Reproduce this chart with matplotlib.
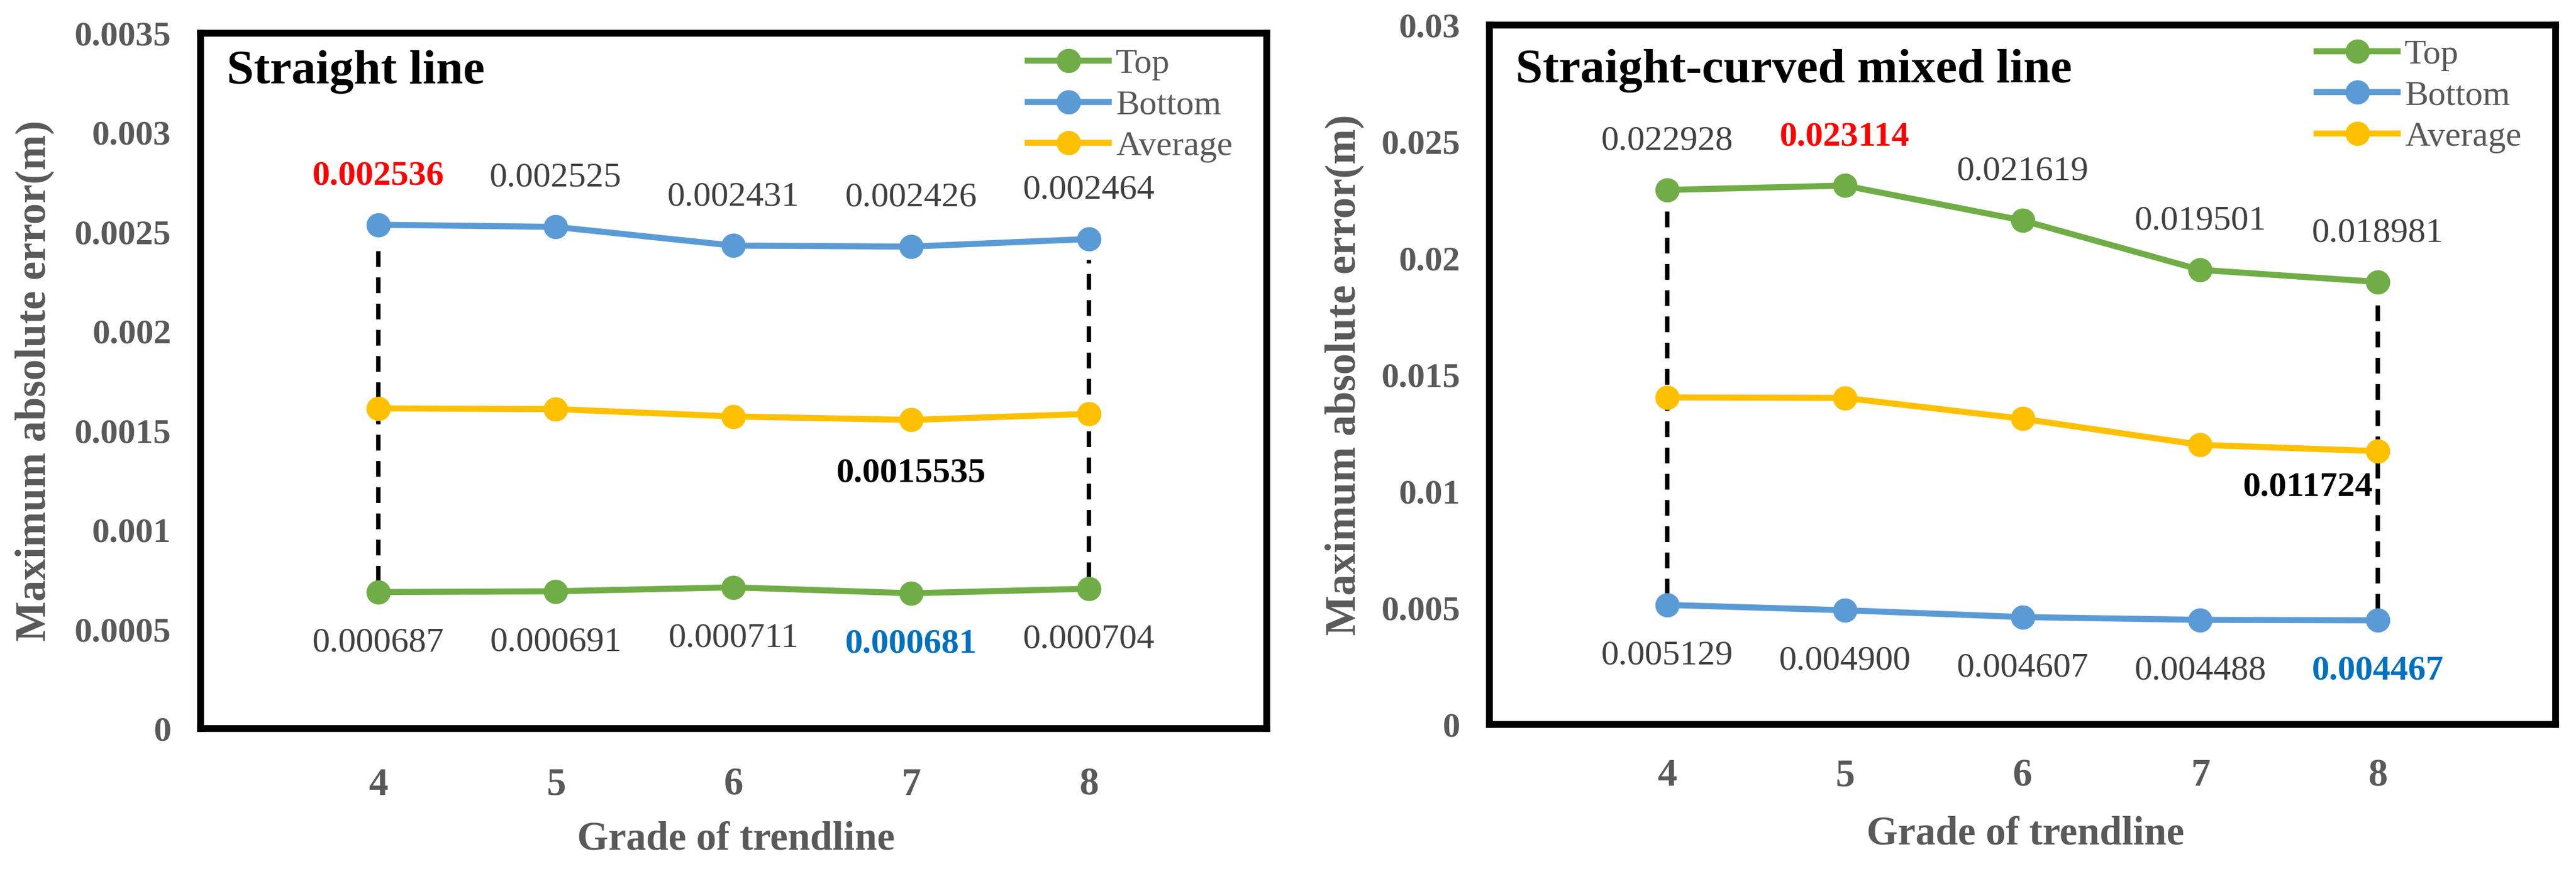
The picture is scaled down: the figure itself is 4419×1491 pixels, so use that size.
import numpy as np
import matplotlib
matplotlib.use('Agg')
from matplotlib import pyplot as plt

plt.rcParams['font.family'] = ['Liberation Serif', 'DejaVu Serif']

grades = [4, 5, 6, 7, 8]
series_names = ['Top', 'Bottom', 'Average']
colors = ['#70AD47', '#5B9BD5', '#FFC000']

# straight line
sl_top = [0.000687, 0.000691, 0.000711, 0.000681, 0.000704]
sl_bottom = [0.002536, 0.002525, 0.002431, 0.002426, 0.002464]
sl_avg = [0.0016115, 0.001608, 0.001571, 0.0015535, 0.001584]
sl_yticks = [0, 0.0005, 0.001, 0.0015, 0.002, 0.0025, 0.003, 0.0035]
sl_yticklabels = ['0', '0.0005', '0.001', '0.0015', '0.002', '0.0025', '0.003', '0.0035']

# straight-curved mixed line
mx_top = [0.022928, 0.023114, 0.021619, 0.019501, 0.018981]
mx_bottom = [0.005129, 0.004900, 0.004607, 0.004488, 0.004467]
mx_avg = [0.0140285, 0.014007, 0.013113, 0.0119945, 0.011724]
mx_yticks = [0, 0.005, 0.01, 0.015, 0.02, 0.025, 0.03]
mx_yticklabels = ['0', '0.005', '0.01', '0.015', '0.02', '0.025', '0.03']

GRAY = '#595959'
LABEL = '#404040'
RED = '#FF0000'
BLUE = '#0070C0'


def fmt(v):
    s = '%.7f' % v
    s = s.rstrip('0')
    if len(s.split('.')[1]) < 6:
        s = '%.6f' % v
    return s


def panel(ax, top, bottom, avg, yticks, yticklabels, title, above, below,
          avg_idx, avg_off, avg_ha, ypad, xpad, ylab_x, xlab_y, title_y, leg_y):
    ymax = yticks[-1]
    gap = 0.03 * ymax
    for xi in (0, 4):
        lo = min(top[xi], bottom[xi])
        hi = max(top[xi], bottom[xi])
        ax.plot([grades[xi], grades[xi]], [lo + gap * 0.5, hi - gap], color='k',
                lw=1.8, linestyle=(0, (3.6, 2.4)), zorder=1)
    for vals, name, c in zip([top, bottom, avg], series_names, colors):
        ax.plot(grades, vals, color=c, lw=2.5, marker='o', markersize=9,
                label=name, zorder=3)

    # data labels: (series, direction, special colours)
    for vals, direction, special in [above, below]:
        off = 20 if direction == 'up' else -21
        for i, (g, v) in enumerate(zip(grades, vals)):
            col, wt = LABEL, 'normal'
            if i in special:
                col, wt = special[i], 'bold'
            ax.annotate(fmt(v), (g, v), xytext=(0, off), textcoords='offset points',
                        ha='center', va='center', fontsize=14.5, color=col, fontweight=wt)
    ax.annotate(fmt(avg[avg_idx]), (grades[avg_idx], avg[avg_idx]), xytext=avg_off,
                textcoords='offset points', ha=avg_ha, va='center', fontsize=14.5,
                color='k', fontweight='bold')

    ax.set_xlim(3, 9)
    ax.set_ylim(0, ymax)
    ax.set_xticks(grades)
    ax.set_xticklabels([str(g) for g in grades], fontsize=16, fontweight='bold', color=GRAY)
    ax.set_yticks(yticks)
    ax.set_yticklabels(yticklabels, fontsize=14.5, fontweight='bold', color=GRAY)
    ax.tick_params(axis='y', length=0, pad=ypad)
    ax.tick_params(axis='x', length=0, pad=xpad)
    for sp in ax.spines.values():
        sp.set_linewidth(2.8)
        sp.set_color('k')
    ax.set_ylabel('Maximum absolute error(m)', fontsize=17.5, fontweight='bold', color=GRAY)
    ax.yaxis.set_label_coords(ylab_x, 0.5)
    ax.set_xlabel('Grade of trendline', fontsize=16.5, fontweight='bold', color=GRAY)
    ax.xaxis.set_label_coords(0.5025, xlab_y)
    ax.text(0.0246, title_y, title, transform=ax.transAxes, fontsize=20,
            fontweight='bold', color='k', va='baseline', ha='left')
    ax.legend(loc='upper left', bbox_to_anchor=(0.776, leg_y), frameon=False,
              fontsize=14.5, handlelength=2.3, handletextpad=0.2, labelspacing=0.25,
              borderpad=0, borderaxespad=0, labelcolor=GRAY)


fig = plt.figure(figsize=(4419 / 300, 1491 / 300), dpi=300)
ax1 = fig.add_axes([0.0778, 0.1616, 0.4139, 0.8002])
ax2 = fig.add_axes([0.5782, 0.1663, 0.4139, 0.8049])

panel(ax1, sl_top, sl_bottom, sl_avg, sl_yticks, sl_yticklabels, 'Straight line',
      (sl_bottom, 'up', {0: RED}), (sl_top, 'down', {3: BLUE}),
      3, (0, -22), 'center', 12, 16, -0.137, -0.133, 0.928, 0.978)
panel(ax2, mx_top, mx_bottom, mx_avg, mx_yticks, mx_yticklabels, 'Straight-curved mixed line',
      (mx_top, 'up', {1: RED}), (mx_bottom, 'down', {4: BLUE}),
      4, (-2, -15), 'right', 12, 14, -0.1175, -0.13, 0.918, 0.98)

fig.savefig('out.png', dpi=300)
